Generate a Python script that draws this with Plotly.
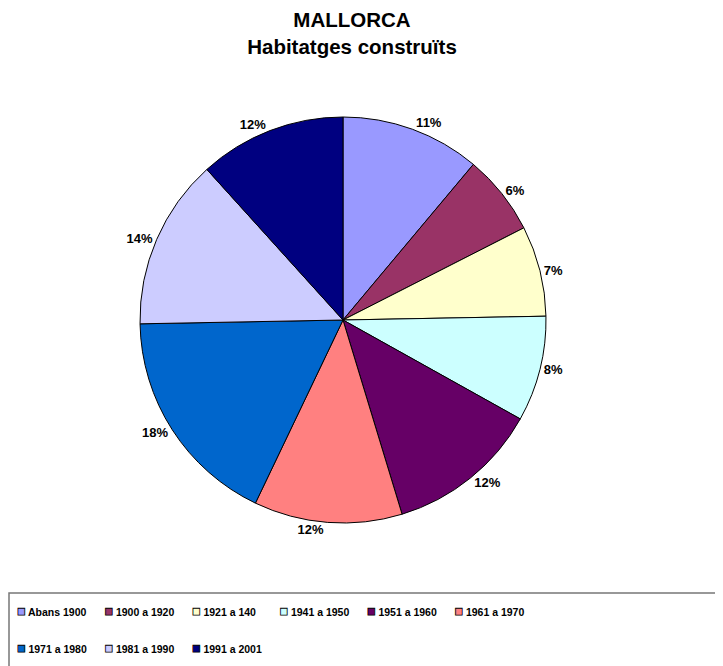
import plotly.graph_objects as go

labels = ["Abans 1900", "1900 a 1920", "1921 a 140", "1941 a 1950", "1951 a 1960",
          "1961 a 1970", "1971 a 1980", "1981 a 1990", "1991 a 2001"]
values = [11.1, 6.4, 7.2, 8.4, 12.2, 11.8, 17.6, 13.6, 11.7]
colors = ["#9999FF", "#993366", "#FFFFCC", "#CCFFFF", "#660066",
          "#FF8080", "#0066CC", "#CCCCFF", "#000080"]

W, H = 723, 666
B = 100                      # bottom margin; legends sit below the plot area
PH = H - B                   # plot-area height in px
OFF = 8                      # page body margin offset
cx, cy, r = 343 - OFF, 320 - OFF, 203
FONT = "Liberation Sans, Arial"
PER_ROW = 6
COL_STEP = 87.5              # legend column spacing, px
KEY_X0 = 17                  # x of first legend key (page px)
ROW_Y = [612, 649]           # legend row centres (page px)


def py(ypx):
    """pixel row (figure coords, from top) -> paper y"""
    return (PH - ypx) / PH


fig = go.Figure()
fig.add_trace(go.Pie(
    labels=labels, values=values, sort=False, direction="clockwise", rotation=0,
    marker=dict(colors=colors, line=dict(color="black", width=1)),
    textposition="outside", texttemplate="%{percent:.0%}",
    textfont=dict(family=FONT, size=13, color="black", weight="bold"),
    domain=dict(x=[(cx - r) / W, (cx + r) / W], y=[py(cy + r), py(cy - r)]),
    showlegend=False,
))

layout_legends = {}
for i, (lab, col) in enumerate(zip(labels, colors)):
    key = "legend" if i == 0 else f"legend{i + 1}"
    legend_name = (f'<span style="color:{col};stroke:#000000;stroke-width:0.8px;'
                   f'font-size:14px">■</span> {lab}')
    fig.add_trace(go.Scatter(
        x=[None], y=[None], mode="markers", name=legend_name,
        marker=dict(symbol="square", size=1, color="rgba(0,0,0,0)",
                    line=dict(width=0, color="rgba(0,0,0,0)")),
        legend=key, showlegend=True, hoverinfo="skip",
    ))
    c, rw = i % PER_ROW, i // PER_ROW
    xpx = KEY_X0 + c * COL_STEP - OFF - 40
    layout_legends[key] = dict(
        orientation="h", xanchor="left", yanchor="middle",
        x=xpx / W, y=py(ROW_Y[rw] - OFF),
        font=dict(family=FONT, size=10.5, color="black", weight="bold"),
        bgcolor="rgba(0,0,0,0)", borderwidth=0, itemwidth=30,
    )

fig.update_layout(
    width=W, height=H,
    margin=dict(l=0, r=0, t=0, b=B, autoexpand=False),
    paper_bgcolor="white", plot_bgcolor="white",
    font=dict(family=FONT, color="black"),
    xaxis=dict(visible=False), yaxis=dict(visible=False),
    title=dict(text="<b>MALLORCA<br>Habitatges construïts</b>", x=(352 - OFF) / W,
               xanchor="center", yref="container", y=1 - 19 / H, yanchor="middle",
               font=dict(size=20.5, color="black")),
    shapes=[dict(type="rect", xref="paper", yref="paper", x0=1 / W, x1=1.05, y0=-0.4,
                 y1=py(593 - OFF), line=dict(color="#777777", width=1.5), layer="below")],
    **layout_legends,
)

fig.write_html("out.html")
